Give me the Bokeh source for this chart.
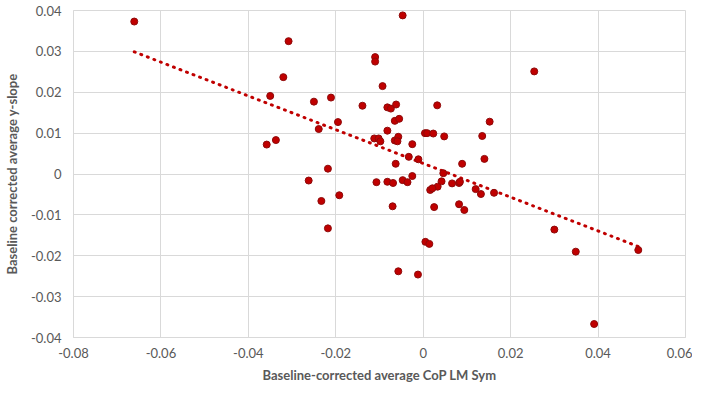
import numpy as np
from bokeh.plotting import figure
from bokeh.models import FixedTicker, Range1d
from bokeh.embed import file_html
from bokeh.resources import INLINE

# Data
cop_lm_sym = [
    -0.0661, -0.0308, -0.0320, -0.0350, -0.0358, -0.0337, -0.0250, -0.0211, -0.0239, -0.0195,
    -0.0218, -0.0262, -0.0139, -0.0233, -0.0192, -0.0218, -0.0047, -0.0110, -0.0110, -0.0093,
    0.0254, -0.0082, -0.0074, -0.0062, 0.0032, -0.0065, -0.0055, 0.0152, -0.0082, -0.0112,
    -0.0102, -0.0098, -0.0065, -0.0057, -0.0059, 0.0004, 0.0009, 0.0023, 0.0048, 0.0135,
    -0.0025, -0.0033, -0.0011, 0.0140, -0.0063, 0.0089, 0.0046, -0.0107, -0.0082, -0.0069,
    -0.0047, -0.0036, -0.0025, 0.0042, 0.0033, 0.0016, 0.0021, 0.0066, 0.0082, 0.0084,
    0.0120, -0.0070, 0.0025, 0.0082, 0.0094, 0.0132, 0.0162, 0.0300, 0.0349, 0.0492,
    0.0391, 0.0005, 0.0014, -0.0057, -0.0012,
]
y_slope = [
    0.0373, 0.0325, 0.0237, 0.0191, 0.0072, 0.0083, 0.0177, 0.0187, 0.0110, 0.0127,
    0.0013, -0.0016, 0.0167, -0.0066, -0.0052, -0.0133, 0.0388, 0.0286, 0.0275, 0.0215,
    0.0251, 0.0163, 0.0160, 0.0170, 0.0168, 0.0130, 0.0135, 0.0128, 0.0106, 0.0087,
    0.0087, 0.0080, 0.0082, 0.0091, 0.0080, 0.0100, 0.0100, 0.0099, 0.0092, 0.0093,
    0.0073, 0.0042, 0.0036, 0.0037, 0.0025, 0.0025, 0.0002, -0.0020, -0.0019, -0.0022,
    -0.0015, -0.0020, -0.0005, -0.0018, -0.0031, -0.0039, -0.0035, -0.0023, -0.0022, -0.0019,
    -0.0037, -0.0079, -0.0081, -0.0074, -0.0088, -0.0049, -0.0046, -0.0136, -0.0190, -0.0186,
    -0.0367, -0.0166, -0.0171, -0.0238, -0.0246,
]
x_ticks = [-0.08, -0.06, -0.04, -0.02, 0.0, 0.02, 0.04, 0.06]
x_tick_labels = ["-0.08", "-0.06", "-0.04", "-0.02", "0", "0.02", "0.04", "0.06"]
y_ticks = [-0.04, -0.03, -0.02, -0.01, 0.0, 0.01, 0.02, 0.03, 0.04]
y_tick_labels = ["-0.04", "-0.03", "-0.02", "-0.01", "0", "0.01", "0.02", "0.03", "0.04"]
x_title = "Baseline-corrected average CoP LM Sym"
y_title = "Baseline corrected average y-slope"

FONT = "Lato"
GREY_TEXT = "#595959"
GRID = "#D9D9D9"
RED = "#C00000"

p = figure(width=692, height=385, output_backend="svg", toolbar_location=None,
           x_range=Range1d(x_ticks[0], x_ticks[-1]), y_range=Range1d(y_ticks[0], y_ticks[-1]),
           min_border_left=62, min_border_right=7, min_border_top=10, min_border_bottom=44)
p.background_fill_color = "white"
p.border_fill_color = "white"
p.outline_line_color = GRID

p.xaxis.ticker = FixedTicker(ticks=x_ticks)
p.yaxis.ticker = FixedTicker(ticks=y_ticks)
p.xaxis.major_label_overrides = {t: l for t, l in zip(x_ticks, x_tick_labels)}
p.yaxis.major_label_overrides = {t: l for t, l in zip(y_ticks, y_tick_labels)}
for ax in (p.xaxis, p.yaxis):
    ax.axis_line_color = GRID
    ax.major_tick_line_color = None
    ax.minor_tick_line_color = None
    ax.major_tick_out = 0
    ax.major_tick_in = 0
    ax.major_label_text_font = FONT
    ax.major_label_text_font_size = "13px"
    ax.major_label_text_color = GREY_TEXT
    ax.axis_label_text_font = FONT
    ax.axis_label_text_font_size = "13px"
    ax.axis_label_text_font_style = "bold"
    ax.axis_label_text_color = GREY_TEXT
p.xaxis.axis_label = x_title
p.yaxis.axis_label = y_title
p.xaxis.major_label_standoff = 10
p.yaxis.major_label_standoff = 12
p.xaxis.axis_label_standoff = 6
p.yaxis.axis_label_standoff = 8

p.xgrid.ticker = FixedTicker(ticks=x_ticks)
p.ygrid.ticker = FixedTicker(ticks=y_ticks)
p.xgrid.grid_line_color = GRID
p.ygrid.grid_line_color = GRID

# Linear trendline from the data
xs = np.array(cop_lm_sym)
ys = np.array(y_slope)
slope, intercept = np.polyfit(xs, ys, 1)
tx = np.array([xs.min(), xs.max()])
p.line(tx, slope * tx + intercept, line_color=RED, line_width=3,
       line_dash="1 6", line_cap="round")

p.scatter(cop_lm_sym, y_slope, size=7, fill_color=RED, line_color="#8E0A0A",
          line_width=1)

open("out.html", "w").write(file_html(p, INLINE))
